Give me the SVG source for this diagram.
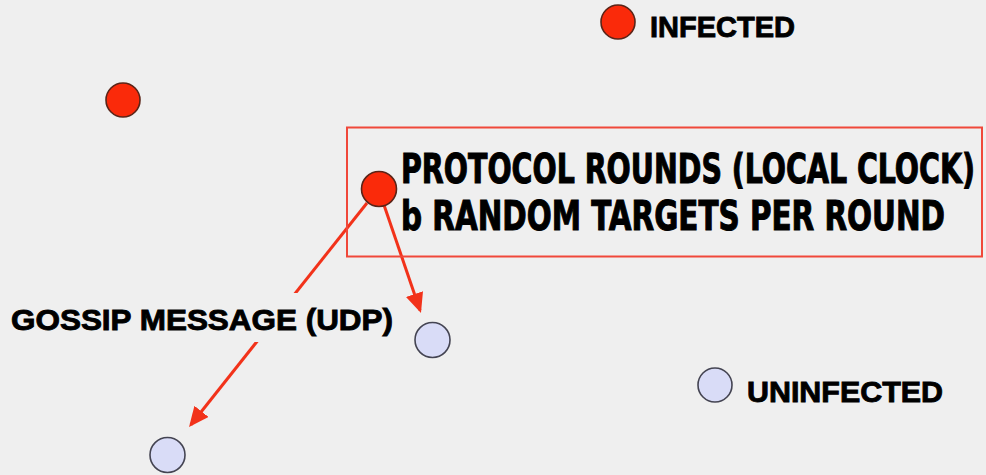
<svg xmlns="http://www.w3.org/2000/svg" width="986" height="475" viewBox="0 0 986 475">
<defs>
<style>
.bg{fill:#efefef}
.inf{fill:#fa2a0a;stroke:#5a2418;stroke-width:1.6}
.uninf{fill:#d9dcf7;stroke:#444452;stroke-width:1.6}
.edge{stroke:#f2321a;stroke-width:3;fill:none}
.lbl{font-family:"Liberation Sans","DejaVu Sans",Arial,sans-serif;font-weight:bold;font-size:30px;fill:#000;stroke:#000;stroke-width:0.9}
.box{font-family:"Liberation Sans Narrow","DejaVu Sans Condensed","Liberation Sans",sans-serif;font-weight:bold;font-size:32px;fill:#000;stroke:#000;stroke-width:0.8}
</style>
<marker id="ah" viewBox="0 0 20 18" refX="17" refY="9" markerWidth="20" markerHeight="18" markerUnits="userSpaceOnUse" orient="auto">
<path d="M0,0 L20,9 L0,18 z" fill="#f2321a"/>
</marker>
</defs>
<rect class="bg" x="0" y="0" width="986" height="475"/>
<g id="connectors">
<line class="edge" x1="384" y1="205" x2="420" y2="310.2" marker-end="url(#ah)"/>
<line class="edge" x1="367" y1="203" x2="190.9" y2="424.7" marker-end="url(#ah)"/>
</g>
<g id="gossip-label">
<rect class="bg" x="5" y="293" width="393" height="49"/>
<text class="lbl" x="11" y="330" textLength="382" lengthAdjust="spacingAndGlyphs">GOSSIP MESSAGE (UDP)</text>
</g>
<g id="protocol-box">
<rect x="347" y="127.5" width="635" height="129" fill="none" stroke="#f0483a" stroke-width="2"/>
<text class="box" transform="translate(401,183) scale(1,1.28)" x="0" y="0" textLength="574" lengthAdjust="spacingAndGlyphs">PROTOCOL ROUNDS (LOCAL CLOCK)</text>
<text class="box" transform="translate(401,230) scale(1,1.28)" x="0" y="0" textLength="544" lengthAdjust="spacingAndGlyphs">b RANDOM TARGETS PER ROUND</text>
</g>
<g id="node-infected-legend">
<circle class="inf" cx="618" cy="22" r="17"/>
<text class="lbl" x="650" y="37" textLength="145" lengthAdjust="spacingAndGlyphs">INFECTED</text>
</g>
<g id="node-infected-left">
<circle class="inf" cx="123" cy="100" r="17"/>
</g>
<g id="node-sender">
<circle class="inf" cx="379" cy="189" r="17.5"/>
</g>
<g id="node-target-1">
<circle class="uninf" cx="432.5" cy="340" r="17.5"/>
</g>
<g id="node-target-2">
<circle class="uninf" cx="167.5" cy="455" r="17.5"/>
</g>
<g id="node-uninfected-legend">
<circle class="uninf" cx="715" cy="385" r="17"/>
<text class="lbl" x="747" y="402" textLength="196" lengthAdjust="spacingAndGlyphs">UNINFECTED</text>
</g>
</svg>
